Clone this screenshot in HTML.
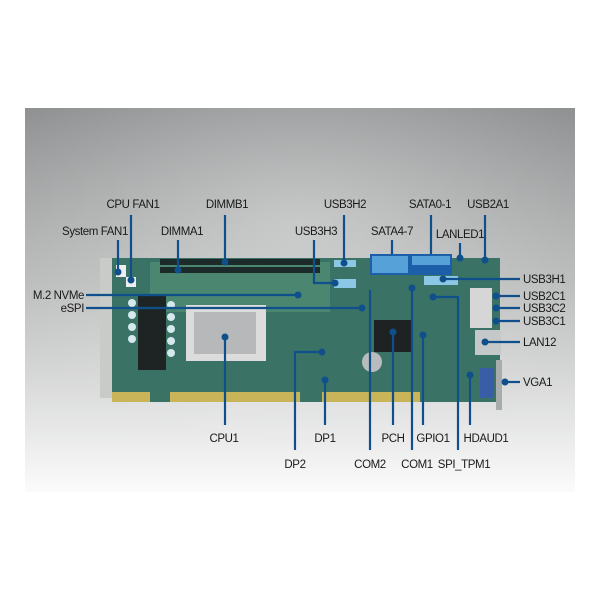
<!DOCTYPE html>
<html><head><meta charset="utf-8"><style>
html,body{margin:0;padding:0;background:#fff;}
svg{display:block}
text{font-family:"Liberation Sans",sans-serif;font-size:11.5px;letter-spacing:-0.4px;fill:#1a1a1a}
</style></head><body>
<svg width="600" height="600" viewBox="0 0 600 600" xmlns="http://www.w3.org/2000/svg">
<defs>
<linearGradient id="bg" x1="0" y1="0" x2="0" y2="1">
<stop offset="0" stop-color="#8d8f90"/><stop offset="0.45" stop-color="#b9baba"/><stop offset="1" stop-color="#fbfbfb"/>
</linearGradient>
<radialGradient id="glow" cx="0.5" cy="0.3" r="0.6"><stop offset="0" stop-color="#fff" stop-opacity="0.35"/><stop offset="1" stop-color="#fff" stop-opacity="0"/></radialGradient>
</defs>
<rect x="25" y="108" width="550" height="384" fill="url(#bg)"/>
<rect x="25" y="108" width="550" height="384" fill="url(#glow)"/>
<!-- board -->
<rect x="100" y="258" width="14" height="140" fill="#c9cbc9"/>
<rect x="112" y="258" width="388" height="134" fill="#3a7365"/>
<rect x="150" y="262" width="180" height="50" fill="#4a8670"/>
<rect x="112" y="392" width="388" height="10" fill="#c9b45a"/>
<rect x="150" y="392" width="20" height="10" fill="#3a7365"/><rect x="300" y="392" width="22" height="10" fill="#3a7365"/><rect x="420" y="392" width="80" height="10" fill="#3a7365"/>
<rect x="160" y="259" width="160" height="6" fill="#1d2a2a"/>
<rect x="160" y="267" width="160" height="6" fill="#1d2a2a"/>
<rect x="138" y="295" width="28" height="75" fill="#1e2424"/>
<rect x="186" y="305" width="80" height="56" fill="#dcdcdc"/>
<rect x="194" y="312" width="62" height="42" fill="#b6b8ba"/>
<rect x="374" y="320" width="38" height="32" fill="#1f2222"/>
<rect x="370" y="254" width="82" height="21" fill="#1c5ea8"/>
<rect x="372" y="256" width="36" height="17" fill="#56a2d8"/>
<rect x="412" y="256" width="38" height="9" fill="#56a2d8"/>
<rect x="334" y="260" width="22" height="7" fill="#8cc7e6"/>
<rect x="334" y="279" width="22" height="9" fill="#8cc7e6"/>
<rect x="424" y="276" width="34" height="9" fill="#8cc7e6"/>
<circle cx="372" cy="362" r="10" fill="#b9bcbc"/>
<rect x="475" y="330" width="26" height="25" fill="#c5c8c8"/>
<rect x="470" y="288" width="22" height="40" fill="#d6d6d6"/>
<rect x="480" y="368" width="14" height="30" fill="#3a5da8"/>
<rect x="496" y="360" width="6" height="50" fill="#a9acac"/>
<rect x="116" y="265" width="10" height="12" fill="#eee"/><rect x="126" y="277" width="10" height="10" fill="#eee"/>
<g fill="#d4e8ee"><circle cx="132" cy="303" r="4"/><circle cx="132" cy="315" r="4"/><circle cx="132" cy="327" r="4"/><circle cx="132" cy="339" r="4"/><circle cx="171" cy="305" r="4"/><circle cx="171" cy="317" r="4"/><circle cx="171" cy="329" r="4"/><circle cx="171" cy="341" r="4"/><circle cx="171" cy="353" r="4"/></g>
<!-- connectors -->
<g stroke="#0f4f8c" stroke-width="2.2" fill="none">
<path d="M118 240V272"/><path d="M131 215V280"/><path d="M178 240V270"/><path d="M225 215V262"/>
<path d="M314 240V283H335"/><path d="M344 215V263"/><path d="M392 240V254"/><path d="M431 215V254"/>
<path d="M460 243V258"/><path d="M485 215V260"/>
<path d="M443 279H520"/><path d="M496 296H520"/><path d="M496 308H520"/><path d="M496 321H520"/><path d="M485 342H520"/><path d="M505 382H520"/>
<path d="M86 295H298"/><path d="M86 308H362"/>
<path d="M225 337V425"/><path d="M322 352H295V450"/><path d="M325 380V425"/><path d="M370 290V450"/><path d="M393 332V425"/>
<path d="M412 288V450"/><path d="M423 335V425"/><path d="M433 297H458V450"/><path d="M470 375V425"/>
</g>
<g fill="#0f4f8c"><circle cx="118" cy="272" r="3.5"/><circle cx="131" cy="280" r="3.5"/><circle cx="178" cy="270" r="3.5"/><circle cx="225" cy="262" r="3.5"/><circle cx="335" cy="283" r="3.5"/><circle cx="344" cy="263" r="3.5"/><circle cx="460" cy="258" r="3.5"/><circle cx="485" cy="260" r="3.5"/><circle cx="443" cy="279" r="3.5"/><circle cx="496" cy="296" r="3.5"/><circle cx="496" cy="308" r="3.5"/><circle cx="496" cy="321" r="3.5"/><circle cx="485" cy="342" r="3.5"/><circle cx="505" cy="382" r="3.5"/><circle cx="298" cy="295" r="3.5"/><circle cx="362" cy="308" r="3.5"/><circle cx="225" cy="337" r="3.5"/><circle cx="322" cy="352" r="3.5"/><circle cx="325" cy="380" r="3.5"/><circle cx="393" cy="332" r="3.5"/><circle cx="412" cy="288" r="3.5"/><circle cx="423" cy="335" r="3.5"/><circle cx="433" cy="297" r="3.5"/><circle cx="470" cy="375" r="3.5"/></g>
<!-- labels -->
<g text-anchor="middle">
<text x="95" y="235">System FAN1</text><text x="133" y="208">CPU FAN1</text><text x="182" y="235">DIMMA1</text><text x="227" y="208">DIMMB1</text>
<text x="316" y="235">USB3H3</text><text x="345" y="208">USB3H2</text><text x="392" y="235">SATA4-7</text><text x="430" y="208">SATA0-1</text>
<text x="460" y="238">LANLED1</text><text x="488" y="208">USB2A1</text>
<text x="224" y="442">CPU1</text><text x="325" y="442">DP1</text><text x="393" y="442">PCH</text><text x="433" y="442">GPIO1</text><text x="486" y="442">HDAUD1</text>
<text x="295" y="468">DP2</text><text x="370" y="468">COM2</text><text x="417" y="468">COM1</text><text x="464" y="468">SPI_TPM1</text>
</g>
<g text-anchor="start">
<text x="523" y="283">USB3H1</text><text x="523" y="300">USB2C1</text><text x="523" y="312">USB3C2</text><text x="523" y="325">USB3C1</text><text x="523" y="346">LAN12</text><text x="523" y="386">VGA1</text>
</g>
<g text-anchor="end"><text x="84" y="299">M.2 NVMe</text><text x="84" y="312">eSPI</text></g>
</svg>
</body></html>
